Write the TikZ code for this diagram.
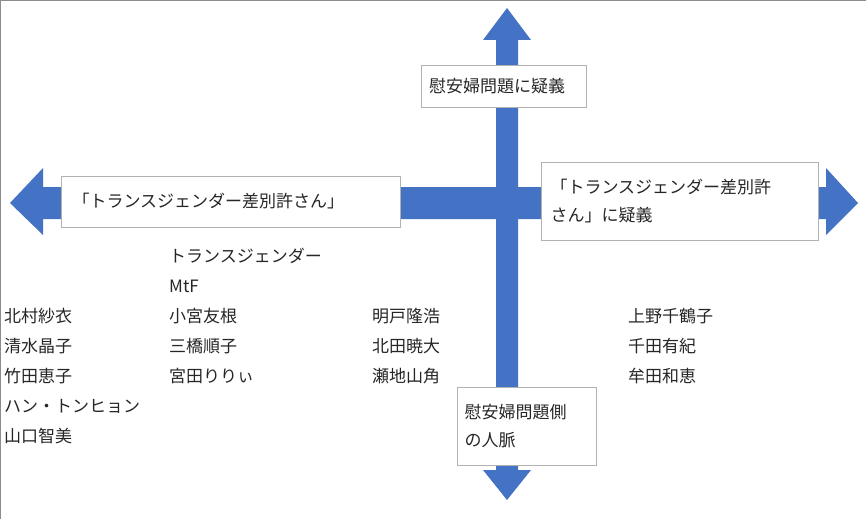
\documentclass[tikz,border=0pt]{standalone}
\usepackage{fontspec}
\setmainfont{Noto Sans CJK JP}
\begin{document}
\begin{tikzpicture}[x=1pt,y=-1pt,
  lbl/.style={font=\fontsize{17}{20}\selectfont,text=black!85,anchor=west,inner sep=0pt},
  box/.style={draw=black!30,fill=white,line width=0.8pt,font=\fontsize{17}{28}\selectfont,text=black!85,align=left,inner sep=0pt}]
\useasboundingbox (0,0) rectangle (866,519);
\draw[black!45,line width=1.2pt] (0.6,519) -- (0.6,0.6) -- (866,0.6);
\definecolor{ab}{RGB}{68,114,196}
% horizontal arrow
\fill[ab] (10,203) -- (43,168) -- (43,187) -- (826,187) -- (826,168) -- (858,203) -- (826,235) -- (826,219) -- (43,219) -- (43,235) -- cycle;
% vertical arrow
\fill[ab] (507,8) -- (531,40) -- (518,40) -- (518,470) -- (531,470) -- (507,500) -- (483,470) -- (496,470) -- (496,40) -- (483,40) -- cycle;
\node[box,minimum width=165pt,minimum height=42pt,text width=149pt] (top) at (503.5,86) {慰安婦問題に疑義};
\node[box,minimum width=339pt,minimum height=51pt,text width=316pt] (left) at (230.5,201.5) {「トランスジェンダー差別許さん」};
\node[box,minimum width=277pt,minimum height=78pt,text width=258pt] (right) at (679.5,201) {「トランスジェンダー差別許\\さん」に疑義};
\node[box,minimum width=139pt,minimum height=78pt,text width=124pt] (bot) at (526.5,426) {慰安婦問題側\\の人脈};
\node[lbl] (a1) at (4,316) {北村紗衣};
\node[lbl] (a2) at (4,346) {清水晶子};
\node[lbl] (a3) at (4,376) {竹田恵子};
\node[lbl] (a4) at (4,406) {ハン・トンヒョン};
\node[lbl] (a5) at (4,436) {山口智美};
\node[lbl] (b0) at (169,256) {トランスジェンダー};
\node[lbl] (b1) at (169,286) {MtF};
\node[lbl] (b2) at (169,316) {小宮友根};
\node[lbl] (b3) at (169,346) {三橋順子};
\node[lbl] (b4) at (169,376) {宮田りりぃ};
\node[lbl] (c1) at (372,316) {明戸隆浩};
\node[lbl] (c2) at (372,346) {北田暁大};
\node[lbl] (c3) at (372,376) {瀬地山角};
\node[lbl] (d1) at (628,316) {上野千鶴子};
\node[lbl] (d2) at (628,346) {千田有紀};
\node[lbl] (d3) at (628,376) {牟田和恵};
\end{tikzpicture}
\end{document}
